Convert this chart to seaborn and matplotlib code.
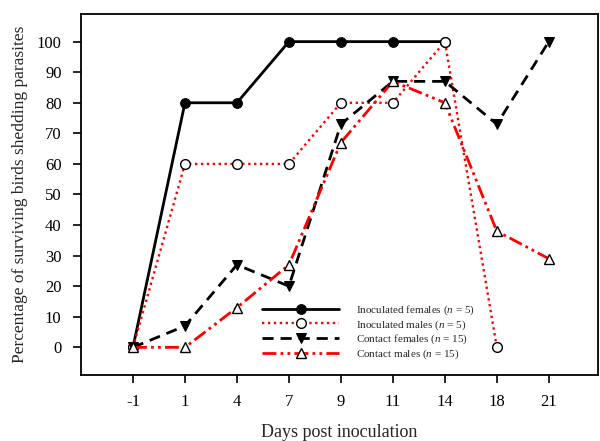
import numpy as np
import pandas as pd
import matplotlib
matplotlib.use("Agg")
import matplotlib.pyplot as plt
import seaborn as sns

days = ["-1", "1", "4", "7", "9", "11", "14", "18", "21"]
inoc_females = [0, 80, 80, 100, 100, 100, 100, None, None]
inoc_males = [0, 60, 60, 60, 80, 80, 100, 0, None]
contact_females = [0, 7, 27, 20, 73, 87, 87, 73, 100]
contact_males = [0, 0, 13, 27, 67, 87, 80, 38, 29]
yticks = list(range(0, 101, 10))

sns.set_style("ticks")
plt.rcParams['font.family'] = ['Liberation Serif', 'DejaVu Serif']
plt.rcParams['mathtext.fontset'] = 'custom'
plt.rcParams['mathtext.it'] = 'Liberation Serif:italic'
plt.rcParams['mathtext.rm'] = 'Liberation Serif'

fig = plt.figure(figsize=(6.0, 4.41), dpi=100)
ax = fig.add_axes([0.135, 0.150, 0.862, 0.818])

series = [
    ("Inoculated females ($n$ = 5)", inoc_females,
     dict(color="black", linestyle="-", linewidth=2.0, marker="o",
          markerfacecolor="black", markeredgecolor="black", markersize=7)),
    ("Inoculated males ($n$ = 5)", inoc_males,
     dict(color="#ff0000", linestyle=(0, (1, 1.5)), linewidth=1.7, marker="o",
          markerfacecolor="white", markeredgecolor="black", markersize=7,
          markeredgewidth=1.0)),
    ("Contact females ($n$ = 15)", contact_females,
     dict(color="black", linestyle=(0, (4, 2.5)), linewidth=2.0, marker="v",
          markerfacecolor="black", markeredgecolor="black", markersize=7)),
    ("Contact males ($n$ = 15)", contact_males,
     dict(color="#ff0000", linestyle=(0, (5, 1.5, 1, 1.5, 1, 1.5)), linewidth=2.0,
          marker="^", markerfacecolor="white", markeredgecolor="black",
          markersize=7, markeredgewidth=1.0)),
]

for label, vals, style in series:
    df = pd.DataFrame({"x": np.arange(len(days)), "y": vals}).dropna()
    sns.lineplot(data=df, x="x", y="y", ax=ax, label=label, **style)

ax.set_xlim(-1, 8.95)
ax.set_ylim(-9, 109)
ax.set_xticks(np.arange(len(days)))
ax.set_xticklabels(days)
ax.set_yticks(yticks)
ax.tick_params(axis="both", direction="out", length=6, width=1.2, labelsize=12,
               pad=8, colors="black")
for sp in ax.spines.values():
    sp.set_linewidth(1.3)
    sp.set_color("black")
ax.set_xlabel("Days post inoculation", fontsize=13, labelpad=10)
ax.set_ylabel("Percentage of surviving birds shedding parasites", fontsize=12.5, labelpad=6)

leg = ax.legend(loc="lower left", bbox_to_anchor=(0.33, 0.01), frameon=False,
                fontsize=8, handlelength=7, labelspacing=0.12, handletextpad=1.5)

fig.savefig("out.png", dpi=100)
